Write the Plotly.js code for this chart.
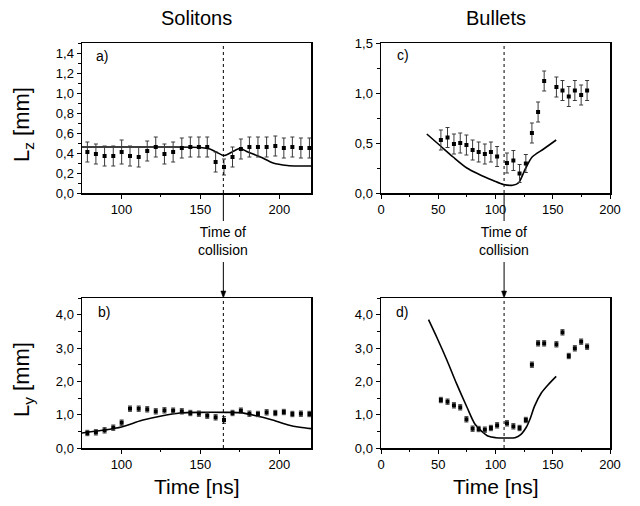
<!DOCTYPE html>
<html>
<head>
<meta charset="utf-8">
<script src="https://cdn.plot.ly/plotly-3.0.1.min.js"></script>
<style>
  html, body { margin: 0; padding: 0; background: #fff; }
  #chart { width: 640px; height: 506px; }
</style>
</head>
<body>
<div id="chart"></div>
<script>
// Soliton measurements (a: Lz, b: Ly)
const solitonTime = [78.4, 83.8, 89.3, 94.8, 100.1, 105.4, 110.9, 116.3, 121.7, 127.2, 132.7, 138.2, 143.6, 149.0, 154.3, 159.6, 164.9, 170.3, 175.6, 181.0, 186.4, 191.9, 197.4, 202.8, 208.2, 213.6, 219.0];
const solitonLz = [0.41, 0.39, 0.37, 0.37, 0.41, 0.37, 0.36, 0.42, 0.46, 0.39, 0.41, 0.45, 0.46, 0.46, 0.46, 0.31, 0.26, 0.36, 0.44, 0.46, 0.46, 0.46, 0.47, 0.45, 0.46, 0.45, 0.45];
const solitonLzErr = [0.10, 0.10, 0.10, 0.10, 0.12, 0.10, 0.10, 0.10, 0.10, 0.10, 0.10, 0.10, 0.10, 0.10, 0.10, 0.10, 0.08, 0.10, 0.10, 0.10, 0.10, 0.10, 0.10, 0.10, 0.10, 0.10, 0.10];
const solitonLy = [0.45, 0.47, 0.53, 0.61, 0.76, 1.18, 1.18, 1.16, 1.10, 1.13, 1.12, 1.10, 1.05, 1.03, 0.97, 0.92, 0.84, 1.05, 1.12, 1.03, 1.02, 1.07, 1.05, 1.08, 1.02, 1.03, 1.02];
const solitonLyErr = [0.08, 0.08, 0.08, 0.08, 0.08, 0.08, 0.08, 0.08, 0.08, 0.08, 0.08, 0.08, 0.08, 0.08, 0.08, 0.08, 0.10, 0.08, 0.08, 0.08, 0.08, 0.08, 0.08, 0.08, 0.08, 0.08, 0.08];

// Soliton simulation curves
const solitonModelTimeLz = [75, 100, 130, 150, 156, 160, 165, 170, 175, 180, 188, 196, 205, 212, 220];
const solitonModelLz = [0.46, 0.46, 0.46, 0.455, 0.44, 0.41, 0.375, 0.41, 0.445, 0.41, 0.36, 0.30, 0.275, 0.27, 0.27];
const solitonModelTimeLy = [75, 88, 100, 113, 126, 137, 150, 165, 175, 185, 195, 205, 213, 220];
const solitonModelLy = [0.45, 0.53, 0.63, 0.83, 0.97, 1.05, 1.07, 1.07, 1.06, 0.97, 0.85, 0.70, 0.62, 0.58];

// Bullet measurements (c: Lz, d: Ly)
const bulletTime = [52.3, 58.1, 63.7, 69.2, 74.6, 80.0, 85.3, 90.7, 96.0, 101.4, 110.0, 115.6, 121.0, 126.5, 131.8, 137.2, 142.5, 153.2, 158.5, 164.0, 169.3, 174.8, 180.0];
const bulletLz = [0.53, 0.555, 0.49, 0.50, 0.48, 0.43, 0.41, 0.39, 0.41, 0.365, 0.30, 0.325, 0.195, 0.295, 0.60, 0.81, 1.12, 1.06, 1.025, 0.965, 1.025, 0.98, 1.025];
const bulletLzErr = [0.10, 0.10, 0.10, 0.10, 0.10, 0.10, 0.10, 0.10, 0.10, 0.10, 0.10, 0.10, 0.09, 0.09, 0.10, 0.10, 0.10, 0.10, 0.10, 0.10, 0.10, 0.10, 0.10];
const bulletLy = [1.44, 1.39, 1.28, 1.22, 0.86, 0.58, 0.57, 0.55, 0.60, 0.68, 0.74, 0.65, 0.60, 0.84, 2.50, 3.14, 3.14, 3.11, 3.47, 2.76, 2.99, 3.19, 3.04];
const bulletLyErr = [0.08, 0.08, 0.08, 0.08, 0.08, 0.08, 0.08, 0.08, 0.08, 0.08, 0.08, 0.08, 0.08, 0.08, 0.08, 0.08, 0.08, 0.08, 0.08, 0.08, 0.08, 0.08, 0.08];

// Bullet simulation curves
const bulletModelTimeLz = [40, 52, 63, 75, 85, 98, 107, 115, 120, 126, 132, 142, 153];
const bulletModelLz = [0.59, 0.47, 0.36, 0.25, 0.19, 0.125, 0.085, 0.078, 0.10, 0.24, 0.36, 0.44, 0.53];
const bulletModelTimeLy = [41.5, 49, 57.5, 66, 75, 82, 88, 94, 100, 109, 117, 122, 127, 130.5, 134, 140, 146, 153];
const bulletModelLy = [3.85, 3.3, 2.64, 1.93, 1.23, 0.72, 0.5, 0.35, 0.31, 0.30, 0.31, 0.40, 0.63, 0.90, 1.25, 1.65, 1.90, 2.15];

// Collision instants
const solitonCollision = 164.5;
const bulletCollision = 107.5;

const W = 640, H = 506;
const px = v => v / W;
const py = v => 1 - v / H;

const FONT = 'Liberation Sans, Arial, Helvetica, sans-serif';

function points(x, y, err, xa, ya) {
  return {
    x: x, y: y, xaxis: xa, yaxis: ya, type: 'scatter', mode: 'markers',
    marker: { symbol: 'square', size: 4, color: '#000' },
    error_y: { type: 'data', array: err, visible: true, color: '#3a3a3a', thickness: 1, width: 2 },
    hoverinfo: 'skip', showlegend: false
  };
}
function curve(x, y, xa, ya) {
  return {
    x: x, y: y, xaxis: xa, yaxis: ya, type: 'scatter', mode: 'lines',
    line: { color: '#000', width: 1.6, shape: 'spline', smoothing: 0.8 },
    hoverinfo: 'skip', showlegend: false
  };
}

const data = [
  curve(solitonModelTimeLz, solitonModelLz, 'x', 'y'),
  points(solitonTime, solitonLz, solitonLzErr, 'x', 'y'),
  curve(solitonModelTimeLy, solitonModelLy, 'x2', 'y2'),
  points(solitonTime, solitonLy, solitonLyErr, 'x2', 'y2'),
  curve(bulletModelTimeLz, bulletModelLz, 'x3', 'y3'),
  points(bulletTime, bulletLz, bulletLzErr, 'x3', 'y3'),
  curve(bulletModelTimeLy, bulletModelLy, 'x4', 'y4'),
  points(bulletTime, bulletLy, bulletLyErr, 'x4', 'y4')
];

const tickFont = { family: FONT, size: 13, color: '#000' };
function axisBase(extra) {
  return Object.assign({
    showline: true, mirror: true, linecolor: '#000', linewidth: 1.5,
    ticks: 'outside', ticklen: 4, tickwidth: 1, tickcolor: '#000',
    showgrid: false, zeroline: false, tickfont: tickFont, fixedrange: true
  }, extra);
}

const leftDom = [px(82), px(311)];
const rightDom = [px(381), px(610)];
const topDom = [py(193), py(43)];
const botDom = [py(448), py(298)];

// centred paper-anchored label
function label(text, x, y, size, extra) {
  return Object.assign({
    text: text, xref: 'paper', yref: 'paper', x: px(x), y: py(y),
    xanchor: 'center', yanchor: 'middle', showarrow: false,
    font: { size: size, family: FONT, color: '#000' }
  }, extra || {});
}

const dotted = { color: '#000', width: 1, dash: 'dot' };
const solid = { color: '#000', width: 1 };

const layout = {
  width: W, height: H,
  margin: { l: 0, r: 0, t: 0, b: 0 },
  paper_bgcolor: '#fff', plot_bgcolor: '#fff',
  separators: ',.',
  font: { family: FONT, color: '#000' },
  xaxis: axisBase({ domain: leftDom, anchor: 'y', range: [75, 220], tickvals: [100, 150, 200], minor: { tickvals: [125, 175], ticklen: 2.5, tickcolor: '#000' } }),
  yaxis: axisBase({ domain: topDom, anchor: 'x', range: [0, 1.5], dtick: 0.2, tick0: 0, tickformat: '.1f', minor: { dtick: 0.1, ticklen: 2.5, tickcolor: '#000' } }),
  xaxis2: axisBase({ domain: leftDom, anchor: 'y2', range: [75, 220], tickvals: [100, 150, 200], minor: { tickvals: [125, 175], ticklen: 2.5, tickcolor: '#000' } }),
  yaxis2: axisBase({ domain: botDom, anchor: 'x2', range: [0, 4.5], dtick: 1, tick0: 0, tickformat: '.1f', minor: { dtick: 0.5, ticklen: 2.5, tickcolor: '#000' } }),
  xaxis3: axisBase({ domain: rightDom, anchor: 'y3', range: [0, 200], dtick: 50, tick0: 0, minor: { dtick: 25, ticklen: 2.5, tickcolor: '#000' } }),
  yaxis3: axisBase({ domain: topDom, anchor: 'x3', range: [0, 1.5], dtick: 0.5, tick0: 0, tickformat: '.1f', minor: { dtick: 0.25, ticklen: 2.5, tickcolor: '#000' } }),
  xaxis4: axisBase({ domain: rightDom, anchor: 'y4', range: [0, 200], dtick: 50, tick0: 0, minor: { dtick: 25, ticklen: 2.5, tickcolor: '#000' } }),
  yaxis4: axisBase({ domain: botDom, anchor: 'x4', range: [0, 4.5], dtick: 1, tick0: 0, tickformat: '.1f', minor: { dtick: 0.5, ticklen: 2.5, tickcolor: '#000' } }),
  shapes: [
    // dotted collision markers inside each panel
    { type: 'line', xref: 'x', yref: 'y domain', x0: solitonCollision, x1: solitonCollision, y0: 0, y1: 1, line: dotted },
    { type: 'line', xref: 'x2', yref: 'y2 domain', x0: solitonCollision, x1: solitonCollision, y0: 0, y1: 1, line: dotted },
    { type: 'line', xref: 'x3', yref: 'y3 domain', x0: bulletCollision, x1: bulletCollision, y0: 0, y1: 1, line: dotted },
    { type: 'line', xref: 'x4', yref: 'y4 domain', x0: bulletCollision, x1: bulletCollision, y0: 0, y1: 1, line: dotted },
    // pointer lines below the upper panels
    { type: 'line', xref: 'x', yref: 'paper', x0: solitonCollision, x1: solitonCollision, y0: py(194), y1: py(221), line: solid },
    { type: 'line', xref: 'x3', yref: 'paper', x0: bulletCollision, x1: bulletCollision, y0: py(194), y1: py(221), line: solid },
    // arrows pointing down into the lower panels
    { type: 'line', xref: 'x2', yref: 'paper', x0: solitonCollision, x1: solitonCollision, y0: py(262), y1: py(296), line: solid },
    { type: 'line', xref: 'x4', yref: 'paper', x0: bulletCollision, x1: bulletCollision, y0: py(262), y1: py(296), line: solid },
    { type: 'path', xref: 'x2', yref: 'paper', xsizemode: 'pixel', ysizemode: 'pixel', xanchor: solitonCollision, yanchor: py(298),
      path: 'M-2.5,7 L2.5,7 L0,0 Z', fillcolor: '#000', line: { color: '#000', width: 0.5 } },
    { type: 'path', xref: 'x4', yref: 'paper', xsizemode: 'pixel', ysizemode: 'pixel', xanchor: bulletCollision, yanchor: py(298),
      path: 'M-2.5,7 L2.5,7 L0,0 Z', fillcolor: '#000', line: { color: '#000', width: 0.5 } }
  ],
  annotations: [
    label('Solitons', 196.5, 18, 20),
    label('Bullets', 495.5, 18, 20),
    label('L<sub>z</sub> [mm]', 23, 125, 22, { textangle: -90 }),
    label('L<sub>y</sub> [mm]', 23, 380, 22, { textangle: -90 }),
    label('Time [ns]', 196.5, 486, 21),
    label('Time [ns]', 495.5, 486, 21),
    label('a)', 102, 56, 14),
    label('b)', 104, 312, 14),
    label('c)', 403, 55, 14),
    label('d)', 402, 312, 14),
    { text: 'Time of<br>collision', xref: 'x', yref: 'paper', x: solitonCollision, y: py(241), xanchor: 'center', yanchor: 'middle',
      showarrow: false, font: { size: 14, family: FONT, color: '#000' }, align: 'center' },
    { text: 'Time of<br>collision', xref: 'x3', yref: 'paper', x: bulletCollision, y: py(241), xanchor: 'center', yanchor: 'middle',
      showarrow: false, font: { size: 14, family: FONT, color: '#000' }, align: 'center' }
  ]
};

Plotly.newPlot('chart', data, layout, { staticPlot: true, displayModeBar: false });
</script>
</body>
</html>
